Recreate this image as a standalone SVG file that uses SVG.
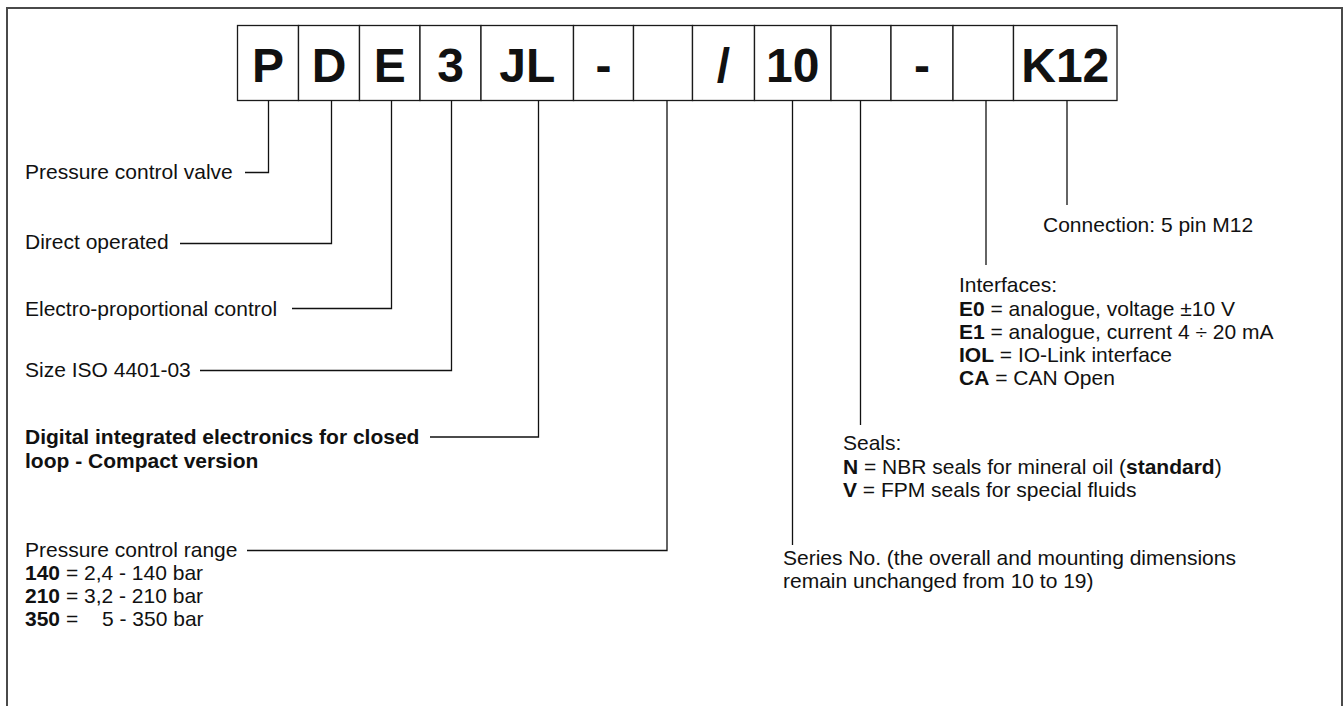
<svg xmlns="http://www.w3.org/2000/svg" width="1344" height="706" viewBox="0 0 1344 706">
<style>
.frame{fill:none;stroke:#4a4a4a;stroke-width:2}
.box{fill:#fff;stroke:#1a1a1a;stroke-width:1.3}
.code{font-family:"Liberation Sans",Arial,sans-serif;font-size:48px;font-weight:bold;text-anchor:middle;fill:#111}
.lbl{font-family:"Liberation Sans",Arial,sans-serif;font-size:21px;fill:#111}
.b{font-weight:bold}
.ld{fill:none;stroke:#111;stroke-width:1.3}
</style>
<rect width="1344" height="706" fill="#fff"/>
<rect class="frame" x="7" y="8" width="1335" height="720"/>
<g id="code">
<g id="box-P"><rect class="box" x="237.5" y="25.5" width="61" height="75"/><text class="code" x="268" y="82">P</text></g>
<g id="box-D"><rect class="box" x="298.5" y="25.5" width="61" height="75"/><text class="code" x="329" y="82">D</text></g>
<g id="box-E"><rect class="box" x="359.5" y="25.5" width="60.5" height="75"/><text class="code" x="389.75" y="82">E</text></g>
<g id="box-3"><rect class="box" x="420" y="25.5" width="61" height="75"/><text class="code" x="450.5" y="82">3</text></g>
<g id="box-JL"><rect class="box" x="481" y="25.5" width="92.5" height="75"/><text class="code" x="527.25" y="82">JL</text></g>
<g id="box-dash1"><rect class="box" x="573.5" y="25.5" width="60" height="75"/><text class="code" x="603.5" y="82">-</text></g>
<g id="box-range"><rect class="box" x="633.5" y="25.5" width="59" height="75"/></g>
<g id="box-slash"><rect class="box" x="692.5" y="25.5" width="62" height="75"/><text class="code" x="723.5" y="82">/</text></g>
<g id="box-10"><rect class="box" x="754.5" y="25.5" width="76.5" height="75"/><text class="code" x="792.75" y="82">10</text></g>
<g id="box-seals"><rect class="box" x="831" y="25.5" width="60" height="75"/></g>
<g id="box-dash2"><rect class="box" x="891" y="25.5" width="62" height="75"/><text class="code" x="922" y="82">-</text></g>
<g id="box-interface"><rect class="box" x="953" y="25.5" width="60.5" height="75"/></g>
<g id="box-K12"><rect class="box" x="1013.5" y="25.5" width="103.5" height="75"/><text class="code" x="1065.25" y="82">K12</text></g>
</g>
<g id="connectors">
<path class="ld" d="M245,172.5 H268.5 V100.5"/>
<path class="ld" d="M180,243.5 H331.5 V100.5"/>
<path class="ld" d="M292,308.5 H391.5 V100.5"/>
<path class="ld" d="M200,370.5 H451.5 V100.5"/>
<path class="ld" d="M430,437 H538.5 V100.5"/>
<path class="ld" d="M247,550.5 H667 V100.5"/>
<path class="ld" d="M792.5,100.5 V545"/>
<path class="ld" d="M860.5,100.5 V425"/>
<path class="ld" d="M986,100.5 V265"/>
<path class="ld" d="M1067,100.5 V205"/>
</g>
<g id="label-P"><text class="lbl" x="25" y="179">Pressure control valve</text></g>
<g id="label-D"><text class="lbl" x="25" y="249">Direct operated</text></g>
<g id="label-E"><text class="lbl" x="25" y="316">Electro-proportional control</text></g>
<g id="label-3"><text class="lbl" x="25" y="377">Size ISO 4401-03</text></g>
<g id="label-JL"><text class="lbl b" x="25" y="443.5">Digital integrated electronics for closed</text><text class="lbl b" x="25" y="468">loop - Compact version</text></g>
<g id="label-range">
<text class="lbl" x="25" y="557">Pressure control range</text>
<text class="lbl" x="25" y="580"><tspan class="b">140</tspan> = 2,4 - 140 bar</text>
<text class="lbl" x="25" y="603"><tspan class="b">210</tspan> = 3,2 - 210 bar</text>
<text class="lbl" x="25" y="626"><tspan class="b">350</tspan> = <tspan x="102">5 - 350 bar</tspan></text>
</g>
<g id="label-series">
<text class="lbl" x="783" y="565">Series No. (the overall and mounting dimensions</text>
<text class="lbl" x="783" y="588">remain unchanged from 10 to 19)</text>
</g>
<g id="label-seals">
<text class="lbl" x="843" y="450">Seals:</text>
<text class="lbl" x="843" y="474"><tspan class="b">N</tspan> = NBR seals for mineral oil (<tspan class="b">standard</tspan>)</text>
<text class="lbl" x="843" y="497"><tspan class="b">V</tspan> = FPM seals for special fluids</text>
</g>
<g id="label-interface">
<text class="lbl" x="959" y="292">Interfaces:</text>
<text class="lbl" x="959" y="316"><tspan class="b">E0</tspan> = analogue, voltage ±10 V</text>
<text class="lbl" x="959" y="339"><tspan class="b">E1</tspan> = analogue, current 4 ÷ 20 mA</text>
<text class="lbl" x="959" y="362"><tspan class="b">IOL</tspan> = IO-Link interface</text>
<text class="lbl" x="959" y="385"><tspan class="b">CA</tspan> = CAN Open</text>
</g>
<g id="label-K12"><text class="lbl" x="1043" y="232">Connection: 5 pin M12</text></g>
</svg>
